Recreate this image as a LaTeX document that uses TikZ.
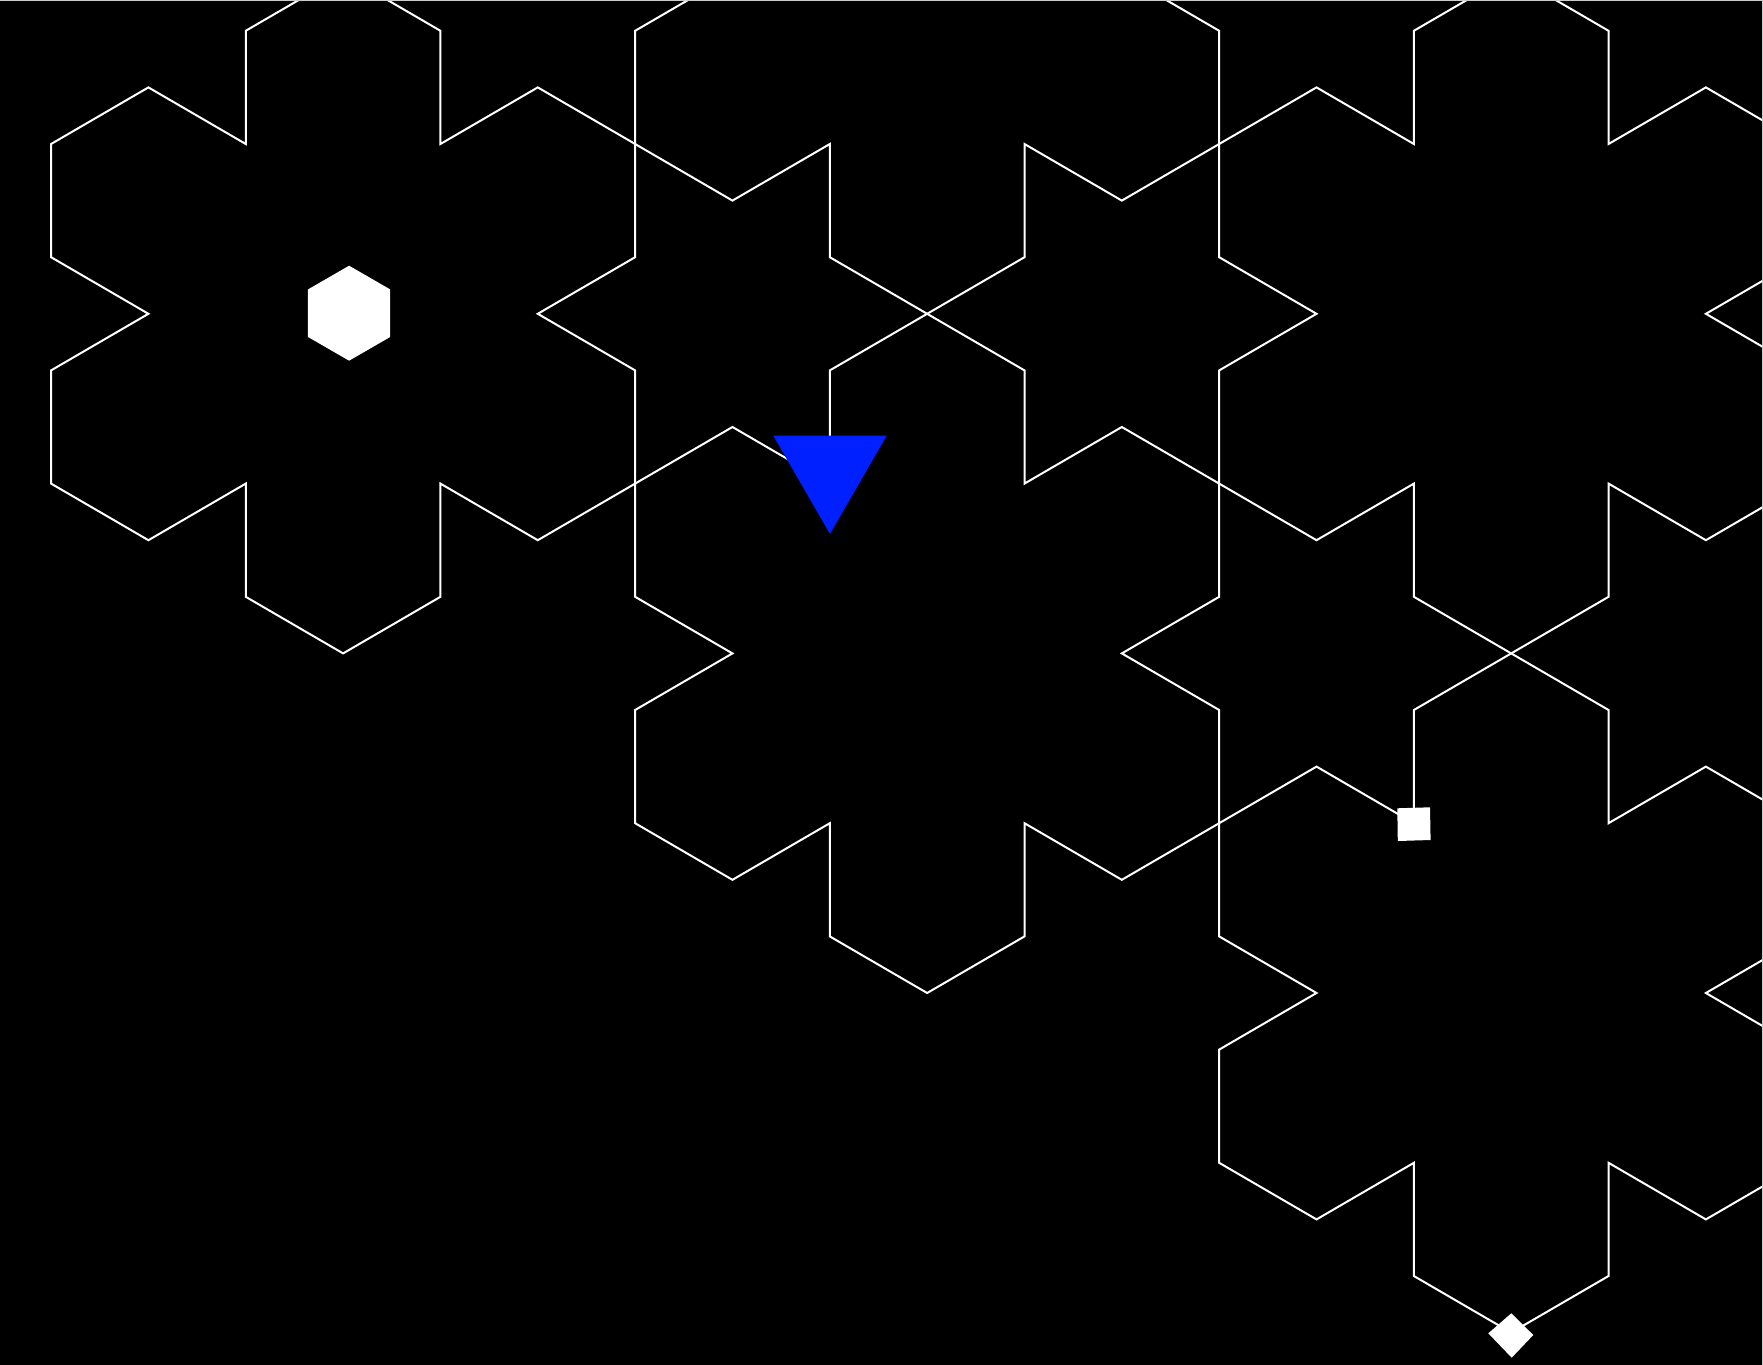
\documentclass[tikz,border=0pt]{standalone}
\definecolor{markblue}{RGB}{0,32,255}
\tikzset{
  flake/.style={draw=white, line width=1pt, line join=miter},
  edgeline/.style={draw=white!80!black, line width=0.5pt},
}
% x unit = (sqrt3/2) * edge, y unit = edge
\newcommand\snowflakeAt[2]{%
  \begin{scope}[shift={(#1,#2)}]
    \begin{scope}[x=48.6706pt,y=56.6pt]
      \draw[flake] (2,0) -- (3,0.5) -- (3,1.5) -- (2,2) -- (1,1.5) -- (1,2.5) -- (0,3)
        -- (-1,2.5) -- (-1,1.5) -- (-2,2) -- (-3,1.5) -- (-3,0.5) -- (-2,0)
        -- (-3,-0.5) -- (-3,-1.5) -- (-2,-2) -- (-1,-1.5) -- (-1,-2.5) -- (0,-3)
        -- (1,-2.5) -- (1,-1.5) -- (2,-2) -- (3,-1.5) -- (3,-0.5) -- cycle;
    \end{scope}
  \end{scope}}
\begin{document}
\begin{tikzpicture}[x=0.5pt,y=-0.5pt]
  \useasboundingbox (0,0) rectangle (1763,1365);
  \fill[black] (0,0) rectangle (1763,1365);
  \clip (0,0) rectangle (1763,1365);
  % snowflake outlines
  \snowflakeAt{343.1}{313.8}
  \snowflakeAt{927.15}{653.4}
  \snowflakeAt{1511.2}{313.8}
  \snowflakeAt{1511.2}{993.0}
  \snowflakeAt{927.15}{-25.8}
  % markers
  \begin{scope}[shift={(349.1,313.2)}]
    \fill[white] (30:47.5) -- (90:47.5) -- (150:47.5) -- (210:47.5) -- (270:47.5) -- (330:47.5) -- cycle;
  \end{scope}
  \fill[markblue] (773.3,435.7) -- (886.7,435.7) -- (830,534) -- cycle;
  \fill[white] (1397.3,808.3) -- (1430,807.3) -- (1430.6,840) -- (1397.8,841) -- cycle;
  \fill[white] (1511.3,1313.3) -- (1533.3,1335) -- (1511.7,1357.7) -- (1488.3,1333.3) -- cycle;
  % thin frame lines at top and right
  \draw[edgeline] (0,0.5) -- (1762.5,0.5) -- (1762.5,1365);
\end{tikzpicture}
\end{document}
